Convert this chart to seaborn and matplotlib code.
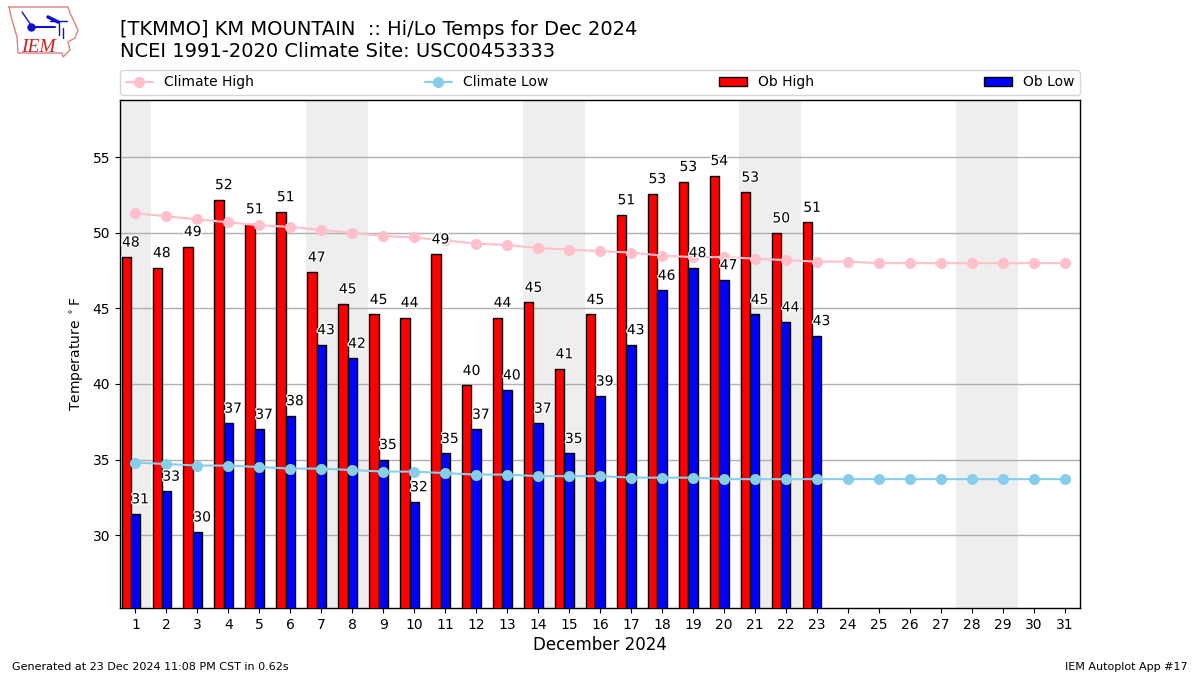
import seaborn as sns
import matplotlib.pyplot as plt
import matplotlib.patheffects as pe
import numpy as np

days = np.arange(1, 32)
ob_days = np.arange(1, 24)
ob_high = [48.4, 47.7, 49.1, 52.2, 50.6, 51.4, 47.4, 45.3, 44.6, 44.4, 48.6, 39.9,
           44.4, 45.4, 41.0, 44.6, 51.2, 52.6, 53.4, 53.8, 52.7, 50.0, 50.7]
ob_low = [31.4, 32.9, 30.2, 37.4, 37.0, 37.9, 42.6, 41.7, 35.0, 32.2, 35.4, 37.0,
          39.6, 37.4, 35.4, 39.2, 42.6, 46.2, 47.7, 46.9, 44.6, 44.1, 43.2]
clim_high = [51.3, 51.1, 50.9, 50.7, 50.5, 50.4, 50.2, 50.0, 49.8, 49.7, 49.5, 49.3,
             49.2, 49.0, 48.9, 48.8, 48.7, 48.5, 48.4, 48.4, 48.3, 48.2, 48.1, 48.1,
             48.0, 48.0, 48.0, 48.0, 48.0, 48.0, 48.0]
clim_low = [34.8, 34.7, 34.6, 34.6, 34.5, 34.4, 34.4, 34.3, 34.2, 34.2, 34.1, 34.0,
            34.0, 33.9, 33.9, 33.9, 33.8, 33.8, 33.8, 33.7, 33.7, 33.7, 33.7, 33.7,
            33.7, 33.7, 33.7, 33.7, 33.7, 33.7, 33.7]
weekends = [(0.5, 1.5), (6.5, 8.5), (13.5, 15.5), (20.5, 22.5), (27.5, 29.5)]
yticks = [30, 35, 40, 45, 50, 55]

sns.set_style('ticks', {'text.color': 'k', 'axes.labelcolor': 'k', 'xtick.color': 'k',
                        'ytick.color': 'k', 'axes.edgecolor': 'k'})
plt.rcParams['font.family'] = ['DejaVu Sans']
fig = plt.figure(figsize=(12, 6.75), dpi=100)
ax = fig.add_axes([120 / 1200, 1 - 608 / 675, 960 / 1200, 508 / 675])

for start, end in weekends:
    ax.axvspan(start, end, color='#eeeeee', lw=0, zorder=0)
ax.grid(True, axis='y', color='#b0b0b0', lw=1, zorder=1)
ax.set_axisbelow(True)

# climate lines
sns.lineplot(x=days, y=clim_high, color='pink', marker='o', markersize=8,
             markeredgewidth=0, lw=1.5, label='Climate High', zorder=4, ax=ax)
sns.lineplot(x=days, y=clim_low, color='skyblue', marker='o', markersize=8,
             markeredgewidth=0, lw=1.5, label='Climate Low', zorder=4, ax=ax)

# observed bars
sns.barplot(x=ob_days - 0.3, y=ob_high, native_scale=True, width=0.3, color='red',
            saturation=1, edgecolor='k', linewidth=1, label='Ob High', zorder=3, ax=ax)
sns.barplot(x=ob_days + 0.0, y=ob_low, native_scale=True, width=0.3, color='blue',
            saturation=1, edgecolor='k', linewidth=1, label='Ob Low', zorder=3, ax=ax)

halo = [pe.withStroke(linewidth=2, foreground='white')]
for d, hi, lo in zip(ob_days, ob_high, ob_low):
    ax.text(d - 0.15, hi + 0.5, f'{round(hi)}', ha='center', va='bottom', fontsize=10,
            path_effects=halo, zorder=5)
    ax.text(d + 0.15, lo + 0.5, f'{round(lo)}', ha='center', va='bottom', fontsize=10,
            path_effects=halo, zorder=5)

ax.set_xlim(0.5, 31.5)
ax.set_ylim(25.17, 58.8)
ax.set_xticks(days)
ax.set_xticklabels([str(d) for d in days])
ax.set_yticks(yticks)
ax.tick_params(labelsize=10, length=3.5, width=0.8)
ax.set_xlabel('December 2024', fontsize=12, labelpad=3)
ax.set_ylabel('Temperature $^\\circ$F', fontsize=10, labelpad=5)
for side in ax.spines.values():
    side.set_visible(True)
    side.set_color('k')
    side.set_linewidth(1)

ax.legend(loc='lower left', bbox_to_anchor=(0, 1.01, 1, 0.102), mode='expand', ncol=4,
          fontsize=10, borderaxespad=0, frameon=True)

fig.text(120 / 1200, 1 - 35 / 675, '[TKMMO] KM MOUNTAIN  :: Hi/Lo Temps for Dec 2024',
         fontsize=14, va='baseline')
fig.text(120 / 1200, 1 - 57 / 675, 'NCEI 1991-2020 Climate Site: USC00453333',
         fontsize=14, va='baseline')
fig.text(12 / 1200, 1 - 670 / 675, 'Generated at 23 Dec 2024 11:08 PM CST in 0.62s',
         fontsize=8, va='baseline')
fig.text(1188 / 1200, 1 - 670 / 675, 'IEM Autoplot App #17', fontsize=8, ha='right',
         va='baseline')

# logo, in pixel coordinates of the top left corner
logo = fig.add_axes([0, 1 - 65 / 675, 90 / 1200, 65 / 675])
logo.set_xlim(0, 90)
logo.set_ylim(65, 0)
logo.axis('off')
outline_x = [9, 68, 70, 78, 75, 68, 70, 63, 62, 18, 17, 12, 9]
outline_y = [7, 7, 13, 30, 38, 42, 50, 57, 53, 53, 37, 20, 7]
logo.plot(outline_x, outline_y, color='#e08080', lw=1)
logo.plot([31, 55], [27, 27], color='#1010d0', lw=1.5)
logo.plot([31], [27], 'o', color='#1010d0', ms=5)
logo.plot([22, 31], [12, 25], color='#1010d0', lw=1)
logo.plot([48, 58], [17, 22], color='#1010d0', lw=2.5)
logo.plot([50, 67], [21, 21], color='#1010d0', lw=1)
logo.plot([59, 59], [21, 35], color='#1010d0', lw=1)
logo.plot([63, 63], [28, 38], color='#1010d0', lw=1)
logo.text(21, 52, 'IEM', family='Liberation Serif', style='italic', color='#d02020',
          fontsize=14, va='baseline')

fig.savefig('out.png', dpi=100)
